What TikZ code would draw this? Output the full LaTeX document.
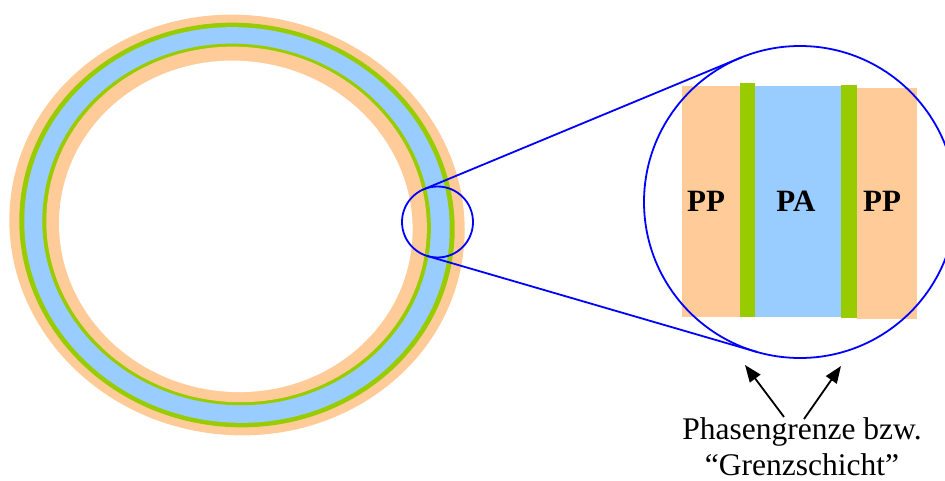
\documentclass[tikz,border=0pt]{standalone}
\usepackage{fontspec}
\setmainfont{Liberation Serif}
\usetikzlibrary{arrows.meta}
\definecolor{ppc}{HTML}{FFCC99}
\definecolor{pac}{HTML}{99CCFF}
\definecolor{grc}{HTML}{99CC00}
\definecolor{lnc}{HTML}{0000FF}
\tikzset{
  lens/.style={draw=lnc, line width=1.8pt, circle, inner sep=0pt, outer sep=0pt},
  zoomline/.style={draw=lnc, line width=1.8pt},
  lbl/.style={font=\fontsize{31}{37}\selectfont\bfseries, anchor=base, inner sep=0pt},
  caption/.style={font=\fontsize{31.5}{37}\selectfont, anchor=base, inner sep=0pt},
  pointer/.style={draw=black, line width=1.8pt, -{Triangle[length=17pt,width=13pt]}}
}
\begin{document}
\begin{tikzpicture}[x=1pt,y=1pt]
\useasboundingbox (0,0) rectangle (945,480);
\clip (0,0) rectangle (945,480);
% ring
\begin{scope}[rotate around={-8:(237,255)}]
\fill[ppc] (237,255) ellipse [x radius=228, y radius=210];
\fill[grc] (237,255) ellipse [x radius=218, y radius=202];
\fill[pac] (237,255) ellipse [x radius=213, y radius=197.5];
\fill[grc] (236.5,255.5) ellipse [x radius=194.5, y radius=180.5];
\fill[ppc] (236.5,255.5) ellipse [x radius=190.5, y radius=177.5];
\fill[white] (236,253.5) ellipse [x radius=177, y radius=165.5];
\end{scope}
% magnified layers
\fill[ppc] (682,163) rectangle (740,394);
\fill[grc] (740,163) rectangle (755,397);
\fill[pac] (755,163) rectangle (841,394);
\fill[grc] (841,162) rectangle (857,395);
\fill[ppc] (857,161) rectangle (917,392);
\node[lbl] (pp1) at (706,269) {PP};
\node[lbl] (pa) at (796,269) {PA};
\node[lbl] (pp2) at (882,269) {PP};
% lenses
\node[lens, minimum size=71pt] (small) at (437.5,258) {};
\node[lens, minimum size=312pt] (big) at (800,278) {};
\draw[zoomline] (small.112.54) -- (big.112.54);
\draw[zoomline] (small.-106.22) -- (big.-106.22);
% caption
\node[caption] (cap1) at (802,41) {Phasengrenze bzw.};
\node[caption, text depth=0pt] (cap2) at (802,5) {“Grenzschicht”};
\coordinate (t1) at (784,63);
\coordinate (h1) at (745,115);
\coordinate (t2) at (804,61);
\coordinate (h2) at (841,114);
\draw[pointer] (t1) -- (h1);
\draw[pointer] (t2) -- (h2);
\end{tikzpicture}
\end{document}
